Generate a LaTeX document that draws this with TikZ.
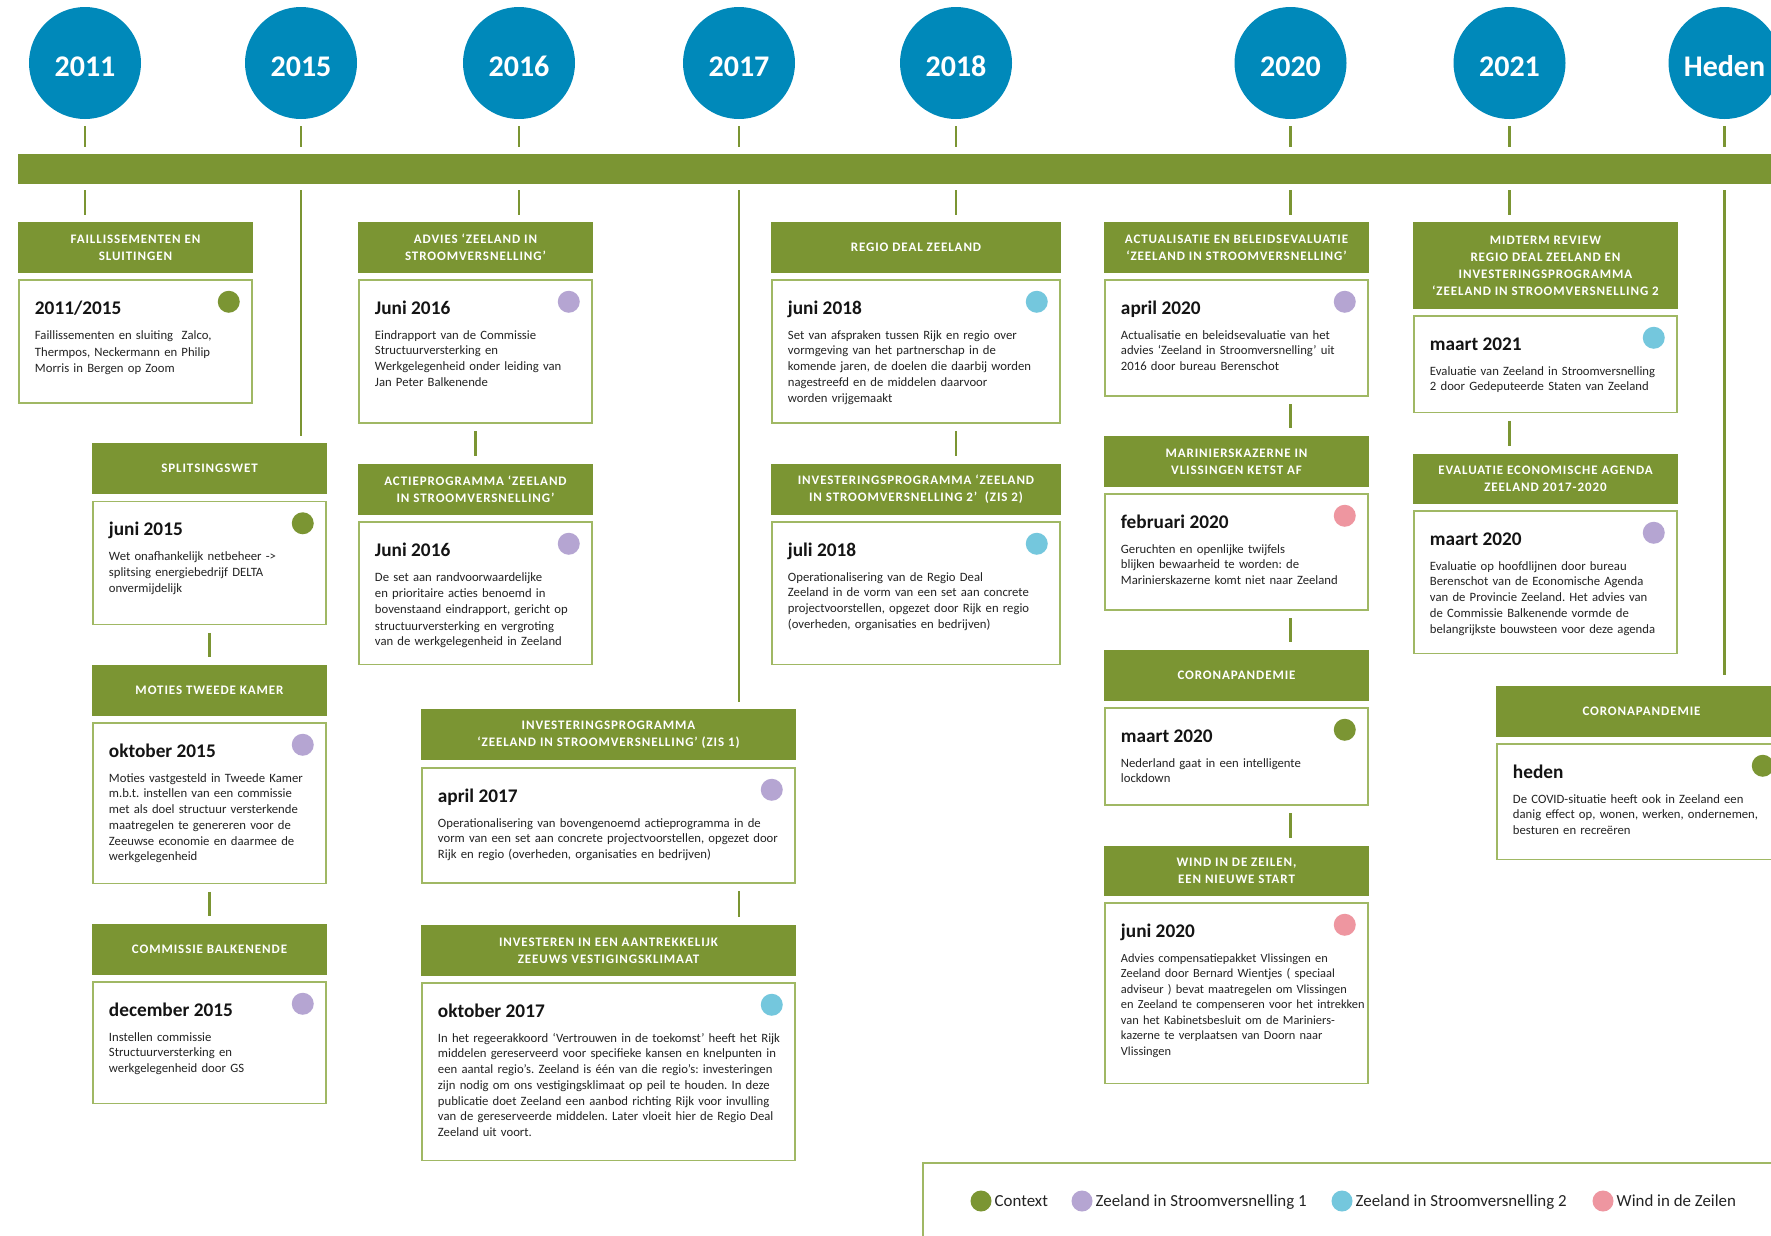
\documentclass[tikz,border=0pt]{standalone}
\usepackage{fontspec}
\setmainfont{Carlito}
\newfontfamily\hdrfont[LetterSpace=7]{Carlito}
\frenchspacing
\definecolor{zgreen}{RGB}{123,149,51}
\definecolor{zborder}{RGB}{160,184,100}
\definecolor{zblue}{RGB}{0,137,186}
\definecolor{dgreen}{RGB}{123,149,51}
\definecolor{dpurple}{RGB}{181,165,210}
\definecolor{dblue}{RGB}{116,199,221}
\definecolor{dpink}{RGB}{238,150,160}
\definecolor{datecol}{RGB}{20,20,20}
\definecolor{bodycol}{RGB}{35,35,35}
\tikzset{
 hdr/.style={fill=zgreen, text=white, font=\hdrfont\bfseries\fontsize{13}{17}\selectfont, align=center, inner sep=0pt},
 card/.style={draw=zborder, line width=1.5pt, fill=white, inner sep=0pt},
 dot/.style={circle, inner sep=0pt, minimum size=22pt},
 datetxt/.style={font=\bfseries\fontsize{19.3}{22}\selectfont, text=datecol, inner sep=0pt},
 bodytxt/.style={font=\frenchspacing\fontsize{12.7}{15.7}\selectfont, text=bodycol, text width=600pt, align=left, inner sep=0pt},
 yearc/.style={circle, fill=zblue, minimum size=112pt, inner sep=0pt, text=white, text height=26pt, text depth=0pt, font=\bfseries\fontsize{30}{30}\selectfont},
 yeartick/.style={draw=zgreen, line width=2.2pt, shorten <=7pt, shorten >=7pt},
 conn/.style={draw=zgreen, line width=2.2pt, shorten <=7.5pt, shorten >=7.5pt},
 legtxt/.style={font=\fontsize{16.9}{20}\selectfont, text=bodycol, inner sep=0pt, anchor=base west},
 legdot/.style={circle, inner sep=0pt, minimum size=21pt},
}
\newcommand\tlhdr[6]{%
 \node[hdr, minimum width=#4pt, minimum height=#5pt] (#1) at (#2,#3) {#6};}
\newcommand\tlcard[8]{%
 \node[card, minimum width=#4pt, minimum height=#5pt] (#1) at (#2,#3) {};
 \node[datetxt, anchor=base west] (#1-d) at ([xshift=16.5pt,yshift=-35pt]#1.north west) {#7};
 \node[bodytxt, anchor=base west] (#1-b) at ([xshift=16.5pt,yshift=-60pt]#1.north west) {#8};
 \node[dot, fill=#6] (#1-p) at ([xshift=-24pt,yshift=-22.5pt]#1.north east) {};}
\begin{document}
\begin{tikzpicture}[x=1pt,y=-1pt]
\useasboundingbox (0,0) rectangle (1771,1235);
\clip (0,0) rectangle (1771,1235);
\fill[white] (0,0) rectangle (1771,1235);
% year positions
\coordinate (x2011) at (85,0);
\coordinate (x2015) at (301,0);
\coordinate (x2016) at (519,0);
\coordinate (x2017) at (739,0);
\coordinate (x2018) at (956,0);
\coordinate (x2020) at (1290.5,0);
\coordinate (x2021) at (1509.5,0);
\coordinate (xheden) at (1724.5,0);
% timeline bar
\node[fill=zgreen, minimum width=1753pt, minimum height=30pt, inner sep=0pt] (bar) at (894.5,169) {};
% year circles
\node[yearc] (y2011) at (85,63) {2011};
\node[yearc] (y2015) at (301,63) {2015};
\node[yearc] (y2016) at (519,63) {2016};
\node[yearc] (y2017) at (739,63) {2017};
\node[yearc] (y2018) at (956,63) {2018};
\node[yearc] (y2020) at (1290.5,63) {2020};
\node[yearc] (y2021) at (1509.5,63) {2021};
\node[yearc] (yheden) at (1724.5,63) {Heden};
\foreach \y in {2011,2015,2016,2017,2018,2020,2021,heden}
  \draw[yeartick] (y\y.south -| x\y) -- (bar.north -| x\y);

% ---- column 2011 / 2015
\tlhdr{hA1}{135.5}{247.5}{235}{51}{FAILLISSEMENTEN EN\\SLUITINGEN}
\tlcard{cA1}{135.5}{341.5}{233}{123}{dgreen}{2011/2015}{\fontsize{12.7}{17.2}\selectfont Faillissementen en sluiting~ Zalco,\\Thermpos, Neckermann en Philip\\Morris in Bergen op Zoom}
\tlhdr{hA2}{209.5}{468.5}{235}{51}{SPLITSINGSWET}
\tlcard{cA2}{209.5}{563}{233}{123}{dgreen}{juni 2015}{Wet onafhankelijk netbeheer ->\\splitsing energiebedrijf DELTA\\onvermijdelijk}
\tlhdr{hA3}{209.5}{690.5}{235}{51}{MOTIES TWEEDE KAMER}
\tlcard{cA3}{209.5}{803.25}{233}{160.5}{dpurple}{oktober 2015}{Moties vastgesteld in Tweede Kamer\\m.b.t. instellen van een commissie\\met als doel structuur versterkende\\maatregelen te genereren voor de\\Zeeuwse economie en daarmee de\\werkgelegenheid}
\tlhdr{hA4}{209.5}{949.5}{235}{51}{COMMISSIE BALKENENDE}
\tlcard{cA4}{209.5}{1042.75}{233}{121.5}{dpurple}{december 2015}{Instellen commissie\\Structuurversterking en\\werkgelegenheid door GS}
\draw[yeartick, shorten <=6pt] (bar.south -| x2011) -- (hA1.north -| x2011);
\draw[yeartick, shorten <=6pt] (bar.south -| x2015) -- (hA2.north -| x2015);
\draw[conn] (cA2.south) -- (hA3.north);
\draw[conn] (cA3.south) -- (hA4.north);

% ---- column 2016
\tlhdr{hB1}{475.5}{247.5}{235}{51}{ADVIES ‘ZEELAND IN\\STROOMVERSNELLING’}
\tlcard{cB1}{475.5}{351.5}{233}{143}{dpurple}{Juni 2016}{Eindrapport van de Commissie\\Structuurversterking en\\Werkgelegenheid onder leiding van\\Jan Peter Balkenende}
\tlhdr{hB2}{475.5}{489.5}{235}{51}{ACTIEPROGRAMMA ‘ZEELAND\\IN STROOMVERSNELLING’}
\tlcard{cB2}{475.5}{593.25}{233}{142.5}{dpurple}{Juni 2016}{\fontsize{12.7}{16.3}\selectfont De set aan randvoorwaardelijke\\en prioritaire acties benoemd in\\bovenstaand eindrapport, gericht op\\structuurversterking en vergroting\\van de werkgelegenheid in Zeeland}
\draw[yeartick, shorten <=6pt] (bar.south -| x2016) -- (hB1.north -| x2016);
\draw[conn] (cB1.south) -- (hB2.north);

% ---- column 2017
\tlhdr{hB3}{608.5}{734.5}{375}{51}{INVESTERINGSPROGRAMMA\\‘ZEELAND IN STROOMVERSNELLING’ (ZIS 1)}
\tlcard{cB3}{608.5}{825.5}{373}{115}{dpurple}{april 2017}{Operationalisering van bovengenoemd actieprogramma in de\\vorm van een set aan concrete projectvoorstellen, opgezet door\\Rijk en regio (overheden, organisaties en bedrijven)}
\tlhdr{hB4}{608.5}{950.5}{375}{51}{INVESTEREN IN EEN AANTREKKELIJK\\ZEEUWS VESTIGINGSKLIMAAT}
\tlcard{cB4}{608.5}{1071.75}{373}{177.5}{dblue}{oktober 2017}{In het regeerakkoord ‘Vertrouwen in de toekomst’ heeft het Rijk\\middelen gereserveerd voor specifieke kansen en knelpunten in\\een aantal regio’s. Zeeland is één van die regio’s: investeringen\\zijn nodig om ons vestigingsklimaat op peil te houden. In deze\\publicatie doet Zeeland een aanbod richting Rijk voor invulling\\van de gereserveerde middelen. Later vloeit hier de Regio Deal\\Zeeland uit voort.}
\draw[yeartick, shorten <=6pt] (bar.south -| x2017) -- (hB3.north -| x2017);
\draw[conn] (cB3.south -| x2017) -- (hB4.north -| x2017);

% ---- column 2018
\tlhdr{hC1}{916}{247.5}{290}{51}{REGIO DEAL ZEELAND}
\tlcard{cC1}{916}{351.5}{288}{143}{dblue}{juni 2018}{Set van afspraken tussen Rijk en regio over\\vormgeving van het partnerschap in de\\komende jaren, de doelen die daarbij worden\\nagestreefd en de middelen daarvoor\\worden vrijgemaakt}
\tlhdr{hC2}{916}{489.5}{290}{51}{INVESTERINGSPROGRAMMA ‘ZEELAND\\IN STROOMVERSNELLING 2’~ (ZIS 2)}
\tlcard{cC2}{916}{593.25}{288}{142.5}{dblue}{juli 2018}{Operationalisering van de Regio Deal\\Zeeland in de vorm van een set aan concrete\\projectvoorstellen, opgezet door Rijk en regio\\(overheden, organisaties en bedrijven)}
\draw[yeartick, shorten <=6pt] (bar.south -| x2018) -- (hC1.north -| x2018);
\draw[conn] (cC1.south -| x2018) -- (hC2.north -| x2018);

% ---- column 2020
\tlhdr{hD1}{1236.5}{247.5}{265}{51}{ACTUALISATIE EN BELEIDSEVALUATIE\\‘ZEELAND IN STROOMVERSNELLING’}
\tlcard{cD1}{1236.5}{338}{263}{116}{dpurple}{april 2020}{Actualisatie en beleidsevaluatie van het\\advies ‘Zeeland in Stroomversnelling’ uit\\2016 door bureau Berenschot}
\tlhdr{hD2}{1236.5}{461.5}{265}{51}{MARINIERSKAZERNE IN\\VLISSINGEN KETST AF}
\tlcard{cD2}{1236.5}{552}{263}{116}{dpink}{februari 2020}{Geruchten en openlijke twijfels\\blijken bewaarheid te worden: de\\Marinierskazerne komt niet naar Zeeland}
\tlhdr{hD3}{1236.5}{675.5}{265}{51}{CORONAPANDEMIE}
\tlcard{cD3}{1236.5}{756.5}{263}{97}{dgreen}{maart 2020}{Nederland gaat in een intelligente\\lockdown}
\tlhdr{hD4}{1236.5}{870.75}{265}{50.5}{WIND IN DE ZEILEN,\\EEN NIEUWE START}
\tlcard{cD4}{1236.5}{993.25}{263}{180.5}{dpink}{juni 2020}{\fontsize{12.4}{15.5}\selectfont Advies compensatiepakket Vlissingen en\\Zeeland door Bernard Wientjes ( speciaal\\adviseur ) bevat maatregelen om Vlissingen\\en Zeeland te compenseren voor het intrekken\\van het Kabinetsbesluit om de Mariniers-\\kazerne te verplaatsen van Doorn naar\\Vlissingen}
\draw[yeartick, shorten <=6pt] (bar.south -| x2020) -- (hD1.north -| x2020);
\draw[conn] (cD1.south -| x2020) -- (hD2.north -| x2020);
\draw[conn] (cD2.south -| x2020) -- (hD3.north -| x2020);
\draw[conn] (cD3.south -| x2020) -- (hD4.north -| x2020);

% ---- column 2021
\tlhdr{hE1}{1545.5}{265.5}{265}{87}{MIDTERM REVIEW\\REGIO DEAL ZEELAND EN\\INVESTERINGSPROGRAMMA\\‘ZEELAND IN STROOMVERSNELLING 2}
\tlcard{cE1}{1545.5}{364.25}{263}{96.5}{dblue}{maart 2021}{Evaluatie van Zeeland in Stroomversnelling\\2 door Gedeputeerde Staten van Zeeland}
\tlhdr{hE2}{1545.5}{478.5}{265}{50}{EVALUATIE ECONOMISCHE AGENDA\\ZEELAND 2017-2020}
\tlcard{cE2}{1545.5}{582.25}{263}{142.5}{dpurple}{maart 2020}{Evaluatie op hoofdlijnen door bureau\\Berenschot van de Economische Agenda\\van de Provincie Zeeland. Het advies van\\de Commissie Balkenende vormde de\\belangrijkste bouwsteen voor deze agenda}
\draw[yeartick, shorten <=6pt] (bar.south -| x2021) -- (hE1.north -| x2021);
\draw[conn] (cE1.south -| x2021) -- (hE2.north -| x2021);

% ---- column heden
\tlhdr{hF1}{1641.5}{711.5}{291}{51}{CORONAPANDEMIE}
\tlcard{cF1}{1641.5}{801.75}{289}{115.5}{dgreen}{heden}{De COVID-situatie heeft ook in Zeeland een\\danig effect op, wonen, werken, ondernemen,\\besturen en recreëren}
\draw[yeartick, shorten <=6pt, shorten >=11pt] (bar.south -| xheden) -- (hF1.north -| xheden);

% ---- legend
\node[draw=zborder, line width=1.5pt, anchor=north west, minimum width=900pt, minimum height=120pt, inner sep=0pt] (legend) at (922,1162) {};
\node[legdot, fill=dgreen] (lg1) at (981,1201) {};
\node[legtxt] (lt1) at (994.5,1206.5) {Context};
\node[legdot, fill=dpurple] (lg2) at (1082,1201) {};
\node[legtxt] (lt2) at (1095.5,1206.5) {Zeeland in Stroomversnelling 1};
\node[legdot, fill=dblue] (lg3) at (1342,1201) {};
\node[legtxt] (lt3) at (1355.5,1206.5) {Zeeland in Stroomversnelling 2};
\node[legdot, fill=dpink] (lg4) at (1603,1201) {};
\node[legtxt] (lt4) at (1616.5,1206.5) {Wind in de Zeilen};
\end{tikzpicture}
\end{document}
